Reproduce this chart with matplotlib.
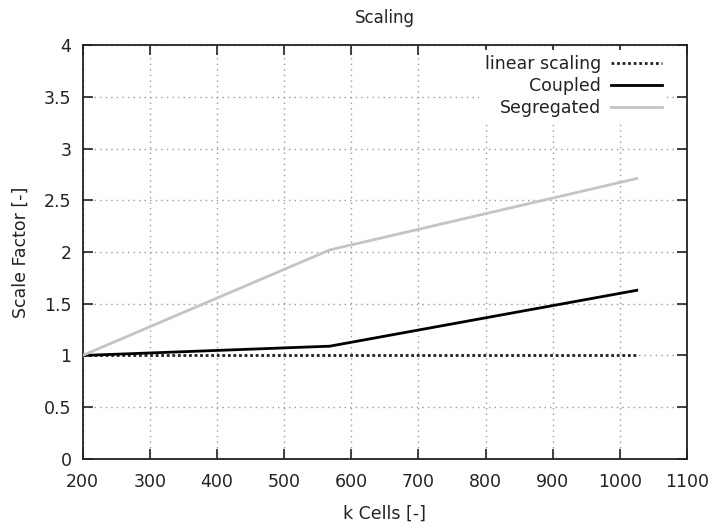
import matplotlib
matplotlib.use("Agg")
import matplotlib.pyplot as plt

# Data
k_cells = [200, 568, 1025]
linear_scaling = [1.0, 1.0, 1.0]
coupled = [1.0, 1.09, 1.63]
segregated = [1.0, 2.02, 2.71]

x_ticks = [200, 300, 400, 500, 600, 700, 800, 900, 1000, 1100]
y_ticks = [0, 0.5, 1, 1.5, 2, 2.5, 3, 3.5, 4]
y_tick_labels = ["0", "0.5", "1", "1.5", "2", "2.5", "3", "3.5", "4"]

plt.rcParams['font.family'] = ['DejaVu Sans']

fig = plt.figure(figsize=(7.15, 5.26), dpi=100)
ax = fig.add_axes([0.1154, 0.1274, 0.961 - 0.1154, 0.9144 - 0.1274])

ax.plot(k_cells, linear_scaling, color='#222222', lw=2.0, linestyle=(0, (1, 1)),
        label='linear scaling', zorder=3)
ax.plot(k_cells, coupled, color='black', lw=2.0, label='Coupled', zorder=4)
ax.plot(k_cells, segregated, color='#c4c4c4', lw=2.0, label='Segregated', zorder=4)

ax.set_xlim(200, 1100)
ax.set_ylim(0, 4)
ax.set_xticks(x_ticks)
ax.set_yticks(y_ticks)
ax.set_yticklabels(y_tick_labels)
ax.tick_params(direction='in', length=7, width=1.2, top=True, right=True,
               labelsize=12.5, pad=8, colors='#222222')
ax.tick_params(axis='x', pad=10)
for s in ax.spines.values():
    s.set_linewidth(1.3)
    s.set_color('#222222')

ax.grid(True, color='#999999', linestyle=(0, (1, 3)), lw=1.0, zorder=0)
ax.set_axisbelow(True)

ax.set_title('Scaling', fontsize=12, pad=16, color='#222222')
ax.set_xlabel('k Cells [-]', fontsize=12.5, labelpad=10, color='#222222')
ax.set_ylabel('Scale Factor [-]', fontsize=12.5, labelpad=10, color='#222222')

leg = ax.legend(loc='upper right', bbox_to_anchor=(1 - 15 / 604, 1.0),
                markerfirst=False, frameon=True,
                facecolor='white', edgecolor='white', framealpha=1.0,
                fontsize=12.5, handlelength=2.9, handletextpad=0.6,
                labelspacing=0.22, borderpad=0.3, borderaxespad=0.3)
leg.get_frame().set_linewidth(0)
for t in leg.get_texts():
    t.set_color('#222222')

fig.savefig('out.png', dpi=100)
